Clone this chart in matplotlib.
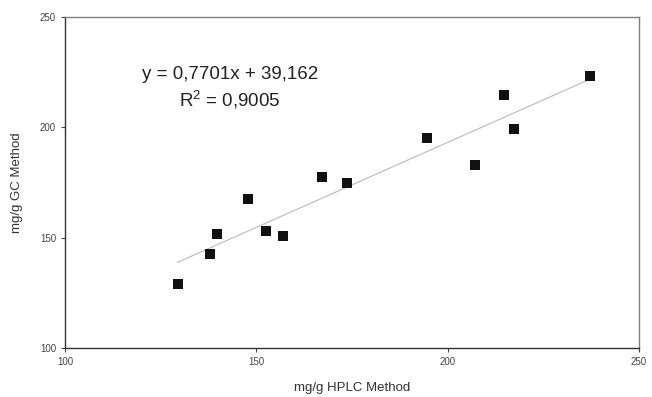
import matplotlib
matplotlib.use("Agg")
import matplotlib.pyplot as plt
import numpy as np

hplc = [129.4, 137.8, 139.8, 147.8, 152.5, 157.0, 167.2, 173.6, 194.7, 207.2, 214.6, 217.4, 237.2]
gc = [128.9, 142.5, 151.5, 167.5, 153.2, 150.8, 177.5, 174.8, 195.3, 183.1, 214.7, 199.4, 223.3]
slope = 0.7701
intercept = 39.162
r2_text = "0,9005"
xticks = [100, 150, 200, 250]
yticks = [100, 150, 200, 250]

plt.rcParams['font.family'] = ['Liberation Sans', 'DejaVu Sans']

fig = plt.figure(figsize=(6.52, 3.97), dpi=100)
ax = fig.add_axes([65/652, 1-348/397, (639-65)/652, (348-17)/397])

xs = np.array([min(hplc), max(hplc)])
ax.plot(xs, slope*xs + intercept, color='#c0c0c0', lw=0.9, zorder=1)
ax.scatter(hplc, gc, marker='s', s=48, color='#111111', linewidths=0, zorder=2)

ax.set_xlim(100, 250)
ax.set_ylim(100, 250)
ax.set_xticks(xticks)
ax.set_yticks(yticks)
ax.tick_params(labelsize=7, colors='#444444', length=3, width=0.8)
for s in ['top', 'right']:
    ax.spines[s].set_color('#808080')
for s in ['left', 'bottom']:
    ax.spines[s].set_color('#333333')
for s in ax.spines.values():
    s.set_linewidth(1.0)

ax.set_xlabel('mg/g HPLC Method', fontsize=9.5, color='#333333', labelpad=11)
ax.set_ylabel('mg/g GC Method', fontsize=9.5, color='#333333', labelpad=12)

ax.text(143.1, 217.6, f"y = {str(slope).replace('.', ',')}x + {str(intercept).replace('.', ',')}\n$\\mathregular{{R^2}}$ = {r2_text}",
        fontsize=13.5, ha='center', va='center', color='#222222', linespacing=1.3)

fig.savefig('out.png', dpi=100)
